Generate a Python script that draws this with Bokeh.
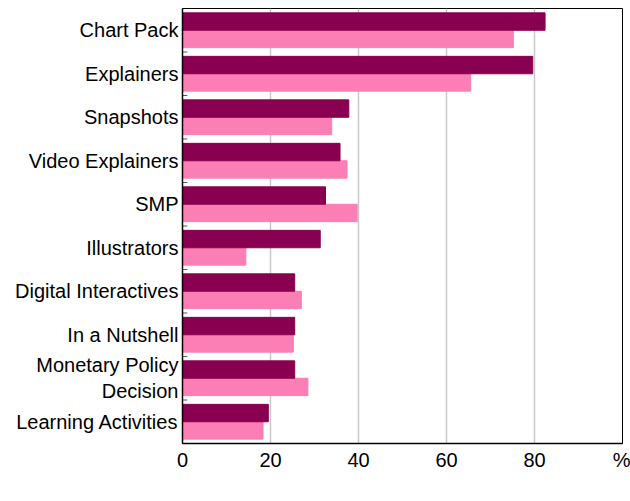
from bokeh.plotting import figure
from bokeh.models import FactorRange, FixedTicker, Legend, LegendItem, ColumnDataSource
from bokeh.transform import dodge
from bokeh.embed import file_html
from bokeh.resources import INLINE

categories = ["Chart Pack", "Explainers", "Snapshots", "Video Explainers", "SMP",
              "Illustrators", "Digital Interactives", "In a Nutshell",
              "Monetary Policy\nDecision", "Learning Activities"]
values_2021 = [75.2, 65.5, 33.9, 37.4, 39.7, 14.4, 27.0, 25.2, 28.5, 18.3]
values_2023 = [82.4, 79.6, 37.8, 35.8, 32.5, 31.3, 25.5, 25.5, 25.5, 19.5]
x_ticks = [0, 20, 40, 60, 80, 100]

C2021 = "#fb7fb4"
C2023 = "#88004f"

src = ColumnDataSource(dict(cat=categories, v2021=values_2021, v2023=values_2023,
                            zero=[0] * len(categories), tk=[1.1] * len(categories)))

p = figure(width=630, height=501, frame_width=440, frame_height=435, title=None,
           y_range=FactorRange(factors=categories[::-1], range_padding=0),
           x_range=(0, 100), output_backend="svg", toolbar_location=None,
           min_border_left=182, min_border_right=8, min_border_top=8, min_border_bottom=58)

r21 = p.hbar(y=dodge("cat", -0.2, range=p.y_range), left=0, right="v2021", height=0.4,
             source=src, fill_color=C2021, line_color=C2021)
r23 = p.hbar(y=dodge("cat", 0.2, range=p.y_range), left=0, right="v2023", height=0.4,
             source=src, fill_color=C2023, line_color=C2023)
p.segment(x0="zero", x1="tk", y0=dodge("cat", -0.5, range=p.y_range),
          y1=dodge("cat", -0.5, range=p.y_range), source=src, line_color="#555555", line_width=1)

p.xaxis.ticker = FixedTicker(ticks=x_ticks)
p.xaxis.major_label_overrides = {100: "%"}
p.xaxis.major_tick_out = 0
p.xaxis.major_tick_in = 0
p.xaxis.minor_tick_out = 0
p.xaxis.minor_tick_in = 0
p.xaxis.major_label_standoff = 5
p.yaxis.major_tick_out = 0
p.yaxis.major_tick_in = 0
p.yaxis.major_label_standoff = 4
for ax in (p.xaxis, p.yaxis):
    ax.axis_line_color = "black"
    ax.axis_line_width = 1.5
    ax.major_label_text_font = "Liberation Sans"
    ax.major_label_text_font_size = "20px"
    ax.major_label_text_color = "black"

p.xgrid.grid_line_color = "#c8c8c8"
p.xgrid.grid_line_width = 1.5
p.ygrid.grid_line_color = None
p.outline_line_color = "black"
p.outline_line_width = 1
p.background_fill_color = "white"
p.border_fill_color = "white"

legend = Legend(items=[LegendItem(label="2021", renderers=[r21]),
                       LegendItem(label="2023", renderers=[r23])],
                orientation="horizontal", location="center",
                glyph_width=16, glyph_height=16, label_text_font="Liberation Sans",
                label_text_font_size="17px", label_standoff=4, spacing=12,
                label_height=16, border_line_color=None, background_fill_alpha=0,
                padding=0, margin=2)
p.add_layout(legend, "below")

open("out.html", "w").write(file_html(p, INLINE))
